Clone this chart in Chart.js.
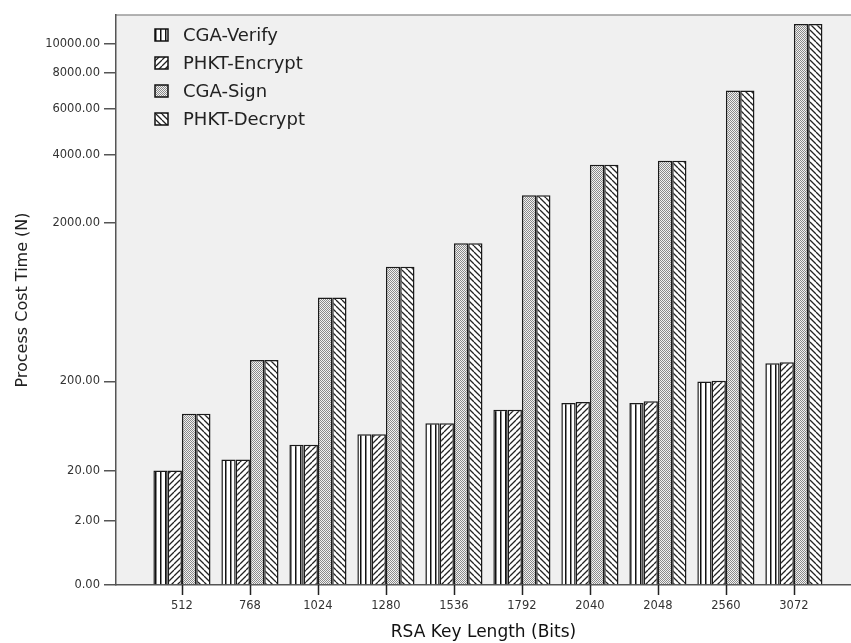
<!DOCTYPE html>
<html>
<head>
<meta charset="utf-8">
<script src="https://cdn.jsdelivr.net/npm/chart.js@4.4.1/dist/chart.umd.min.js"></script>
<style>
  body { margin: 0; background: #fff; }
  canvas { display: block; }
</style>
</head>
<body>
<canvas id="myChart" width="851" height="643"></canvas>
<script>
// datos
const categories = ['512', '768', '1024', '1280', '1536', '1792', '2040', '2048', '2560', '3072'];
const cgaVerify = [20, 29, 45, 60, 80, 110, 128, 128, 200, 282];
const phktEncrypt = [20, 29, 45, 60, 80, 110, 131, 133, 203, 287];
const cgaSign = [100, 299, 795, 1194, 1591, 2692, 3632, 3773, 6969, 11538];
const phktDecrypt = [100, 299, 795, 1194, 1591, 2692, 3632, 3773, 6969, 11538];
const yTicks = [0, 2, 20, 200, 2000, 4000, 6000, 8000, 10000];
const seriesNames = ['CGA-Verify', 'PHKT-Encrypt', 'CGA-Sign', 'PHKT-Decrypt'];

// escala de raíz cuarta (como la del gráfico original)
class FourthRootScale extends Chart.LinearScale {
    _t(v) { return Math.pow(Math.max(v, 0), 0.25); }
    getPixelForValue(value) {
        const t0 = this._t(this.min), t1 = this._t(this.max);
        return this.getPixelForDecimal((this._t(value) - t0) / (t1 - t0));
    }
    getValueForPixel(pixel) {
        const t0 = this._t(this.min), t1 = this._t(this.max);
        return Math.pow(t0 + this.getDecimalForPixel(pixel) * (t1 - t0), 4);
    }
}
FourthRootScale.id = 'fourthRoot';
FourthRootScale.defaults = Chart.LinearScale.defaults;
Chart.register(FourthRootScale);

// texturas de las barras
function makePattern(kind) {
    const c = document.createElement('canvas');
    const s = kind === 'dots' ? 2 : (kind === 'vert' ? 5 : 6);
    c.width = s; c.height = s;
    const g = c.getContext('2d');
    g.fillStyle = '#ffffff';
    g.fillRect(0, 0, s, s);
    if (kind === 'vert') {
        g.fillStyle = '#111';
        g.fillRect(0, 0, 1, s);
        g.fillStyle = '#888';
        g.fillRect(1, 0, 1, s);
    } else if (kind === 'dots') {
        g.fillStyle = '#f2f2f2';
        g.fillRect(0, 0, 2, 2);
        g.fillStyle = '#8a8a8a';
        g.fillRect(0, 0, 1, 1);
        g.fillRect(1, 1, 1, 1);
    } else {
        g.strokeStyle = '#222';
        g.lineWidth = 1.3;
        g.beginPath();
        for (let k = -1; k <= 1; k++) {
            if (kind === 'fwd') {
                g.moveTo(k * s, s); g.lineTo(k * s + s, 0);
            } else {
                g.moveTo(k * s, 0); g.lineTo(k * s + s, s);
            }
        }
        g.stroke();
    }
    return g.createPattern(c, 'repeat');
}

const ctx = document.getElementById('myChart').getContext('2d');
const patterns = [makePattern('vert'), makePattern('fwd'), makePattern('dots'), makePattern('back')];
const allSeries = [cgaVerify, phktEncrypt, cgaSign, phktDecrypt];

const datasets = allSeries.map((vals, s) => ({
    label: seriesNames[s],
    data: vals.map((v, i) => ({ x: i, y: v })),
    backgroundColor: patterns[s],
    borderColor: '#1a1a1a',
    borderWidth: 1.5,
    categoryPercentage: 0.84,
    barPercentage: 1.0
}));

// fondo del área, línea superior, marcas del eje x y leyenda dentro del gráfico
const decoPlugin = {
    id: 'deco',
    beforeDraw(chart) {
        const a = chart.chartArea, c = chart.ctx;
        c.save();
        c.fillStyle = '#f0f0f0';
        c.fillRect(a.left, a.top, a.right - a.left, a.bottom - a.top);
        c.strokeStyle = '#9a9a9a';
        c.lineWidth = 1.5;
        c.beginPath();
        c.moveTo(a.left, a.top);
        c.lineTo(a.right, a.top);
        c.stroke();
        c.restore();
    },
    afterDraw(chart) {
        const c = chart.ctx;
        const xs = chart.scales.x;
        c.save();
        c.strokeStyle = '#222';
        c.lineWidth = 1.5;
        c.beginPath();
        xs.ticks.forEach((t, i) => {
            const px = Math.round(xs.getPixelForTick(i)) + 0.5;
            c.moveTo(px, xs.top);
            c.lineTo(px, xs.top + 10);
        });
        c.stroke();

        chart.data.datasets.forEach((ds, i) => {
            const y = 35 + i * 28;
            c.fillStyle = ds.backgroundColor;
            c.fillRect(155, y - 6, 13, 12);
            c.strokeStyle = '#111';
            c.lineWidth = 1.5;
            c.strokeRect(155, y - 6, 13, 12);
            c.fillStyle = '#222';
            c.font = '18px "DejaVu Sans"';
            c.textBaseline = 'middle';
            c.fillText(ds.label, 183, y + 1);
        });
        c.restore();
    }
};

const myChart = new Chart(ctx, {
    type: 'bar',
    data: { datasets: datasets },
    plugins: [decoPlugin],
    options: {
        responsive: false,
        animation: false,
        devicePixelRatio: 1,
        layout: { padding: { top: 15, left: 0, right: 0, bottom: 0 } },
        plugins: {
            legend: { display: false },
            tooltip: { enabled: false }
        },
        scales: {
            x: {
                type: 'linear',
                min: -0.97,
                max: 9.84,
                offset: false,
                afterBuildTicks: (scale) => {
                    scale.ticks = categories.map((c, i) => ({ value: i }));
                },
                afterFit: (scale) => { scale.height = 58; },
                ticks: {
                    callback: (value) => categories[value],
                    color: '#333',
                    font: { family: 'DejaVu Sans', size: 11.5 },
                    padding: 4,
                    maxRotation: 0,
                    autoSkip: false
                },
                grid: { offset: false, drawOnChartArea: false, drawTicks: true, tickLength: 10, color: 'rgba(0,0,0,0)' },
                border: { display: true, color: '#555', width: 1.5 },
                title: {
                    display: true,
                    text: 'RSA Key Length (Bits)',
                    color: '#111',
                    font: { family: 'DejaVu Sans', size: 17 },
                    padding: { top: 0, bottom: 0 }
                }
            },
            y: {
                type: 'fourthRoot',
                min: 0,
                max: 12300,
                bounds: 'data',
                afterBuildTicks: (scale) => {
                    scale.ticks = yTicks.map(v => ({ value: v }));
                },
                afterFit: (scale) => { scale.width = 116; },
                ticks: {
                    callback: (value) => Number(value).toFixed(2),
                    color: '#333',
                    font: { family: 'DejaVu Sans', size: 11.5 },
                    padding: 4,
                    autoSkip: false
                },
                grid: { drawOnChartArea: false, drawTicks: true, tickLength: 12, color: '#555', lineWidth: 1.5 },
                border: { display: true, color: '#555', width: 1.5 },
                title: {
                    display: true,
                    text: 'Process Cost Time (N)',
                    color: '#222',
                    font: { family: 'DejaVu Sans', size: 16 },
                    padding: { top: 13, bottom: 0 }
                }
            }
        }
    }
});
</script>
</body>
</html>
